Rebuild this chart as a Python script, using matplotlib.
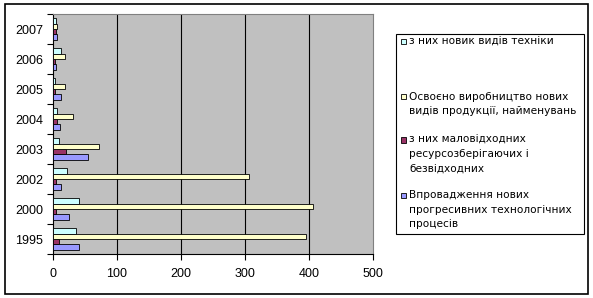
import matplotlib
matplotlib.use("Agg")
import matplotlib.pyplot as plt
from matplotlib.patches import Rectangle
import numpy as np

plt.rcParams['font.family'] = ['Liberation Sans', 'DejaVu Sans']

years = ["1995", "2000", "2002", "2003", "2004", "2005", "2006", "2007"]
# series (bottom-to-top order inside a group)
processes = [40.7, 25, 12.5, 54.8, 11, 13, 4.7, 6.3]      # Впровадження нових прогресивних технологічних процесів
low_waste = [9.4, 4.7, 4.2, 20.4, 6.3, 3, 3, 4.2]         # з них маловідходних ...
new_products = [394.6, 405.5, 307, 72, 31.3, 18.8, 18.8, 6.3]  # Освоєно виробництво нових видів продукції
new_tech = [36, 40.7, 22.4, 9.4, 6.8, 3, 12.5, 4.7]        # з них новик видів техніки

series = [processes, low_waste, new_products, new_tech]
colors = ["#9999FF", "#993366", "#FFFFCC", "#CCFFFF"]
labels = ["Впровадження нових\nпрогресивних технологічних\nпроцесів",
          "з них маловідходних\nресурсозберігаючих і\nбезвідходних",
          "Освоєно виробництво нових\nвидів продукції, найменувань",
          "з них новик видів техніки"]
x_ticks = [0, 100, 200, 300, 400, 500]

W, H = 593, 298
fig = plt.figure(figsize=(W / 100, H / 100), dpi=100)

def fx(px):
    return px / W

def fy(py):
    return 1 - py / H

ax = fig.add_axes([fx(53), fy(254), (373 - 53) / W, (254 - 14) / H])
ax.set_facecolor("#C0C0C0")

y = np.arange(len(years))
h = 0.181
offsets = [-1.5 * h, -0.5 * h, 0.5 * h, 1.5 * h]
for vals, c, off in zip(series, colors, offsets):
    ax.barh(y + off, vals, height=h, color=c, edgecolor="black", linewidth=0.6, zorder=3)

ax.set_xlim(0, 500)
ax.set_ylim(-0.5, len(years) - 0.5)
ax.set_xticks(x_ticks)
ax.set_xticklabels([str(t) for t in x_ticks], fontsize=9)
ax.set_yticks(np.arange(len(years) + 1) - 0.5)
ax.set_yticklabels([])
ax.set_yticks(y, minor=True)
ax.set_yticklabels(years, minor=True, fontsize=9)
ax.tick_params(axis='y', which='minor', length=0, pad=7)
ax.tick_params(axis='y', which='major', length=4, width=0.8, direction='out')
ax.tick_params(axis='x', which='major', length=4, width=0.8, direction='out', pad=6)
for xv in x_ticks[1:-1]:
    ax.axvline(xv, color="black", linewidth=0.8, zorder=1)
for side in ("top", "right"):
    ax.spines[side].set_color("#808080")
    ax.spines[side].set_linewidth(0.8)
for side in ("left", "bottom"):
    ax.spines[side].set_color("black")
    ax.spines[side].set_linewidth(0.8)

# outer chart border
fig.patches.append(Rectangle((fx(5), fy(294)), (588 - 5) / W, (294 - 4) / H,
                             transform=fig.transFigure, fill=False,
                             edgecolor="black", linewidth=1.2))
# legend box
fig.patches.append(Rectangle((fx(396), fy(234)), (584 - 396) / W, (234 - 34) / H,
                             transform=fig.transFigure, fill=False,
                             edgecolor="black", linewidth=0.8))

leg_order = [3, 2, 1, 0]
marker_centers = [41.5, 96.7, 140, 195.5]
line_step = 14.3
for idx, cy in zip(leg_order, marker_centers):
    fig.patches.append(Rectangle((fx(401), fy(cy + 2.6)), 5.2 / W, 5.2 / H,
                                 transform=fig.transFigure, facecolor=colors[idx],
                                 edgecolor="black", linewidth=0.6))
    for k, line in enumerate(labels[idx].split("\n")):
        fig.text(fx(409), fy(cy + k * line_step), line, fontsize=7.6,
                 family=['DejaVu Sans'], ha='left', va='center')

fig.savefig("out.png", dpi=100, facecolor="white")
